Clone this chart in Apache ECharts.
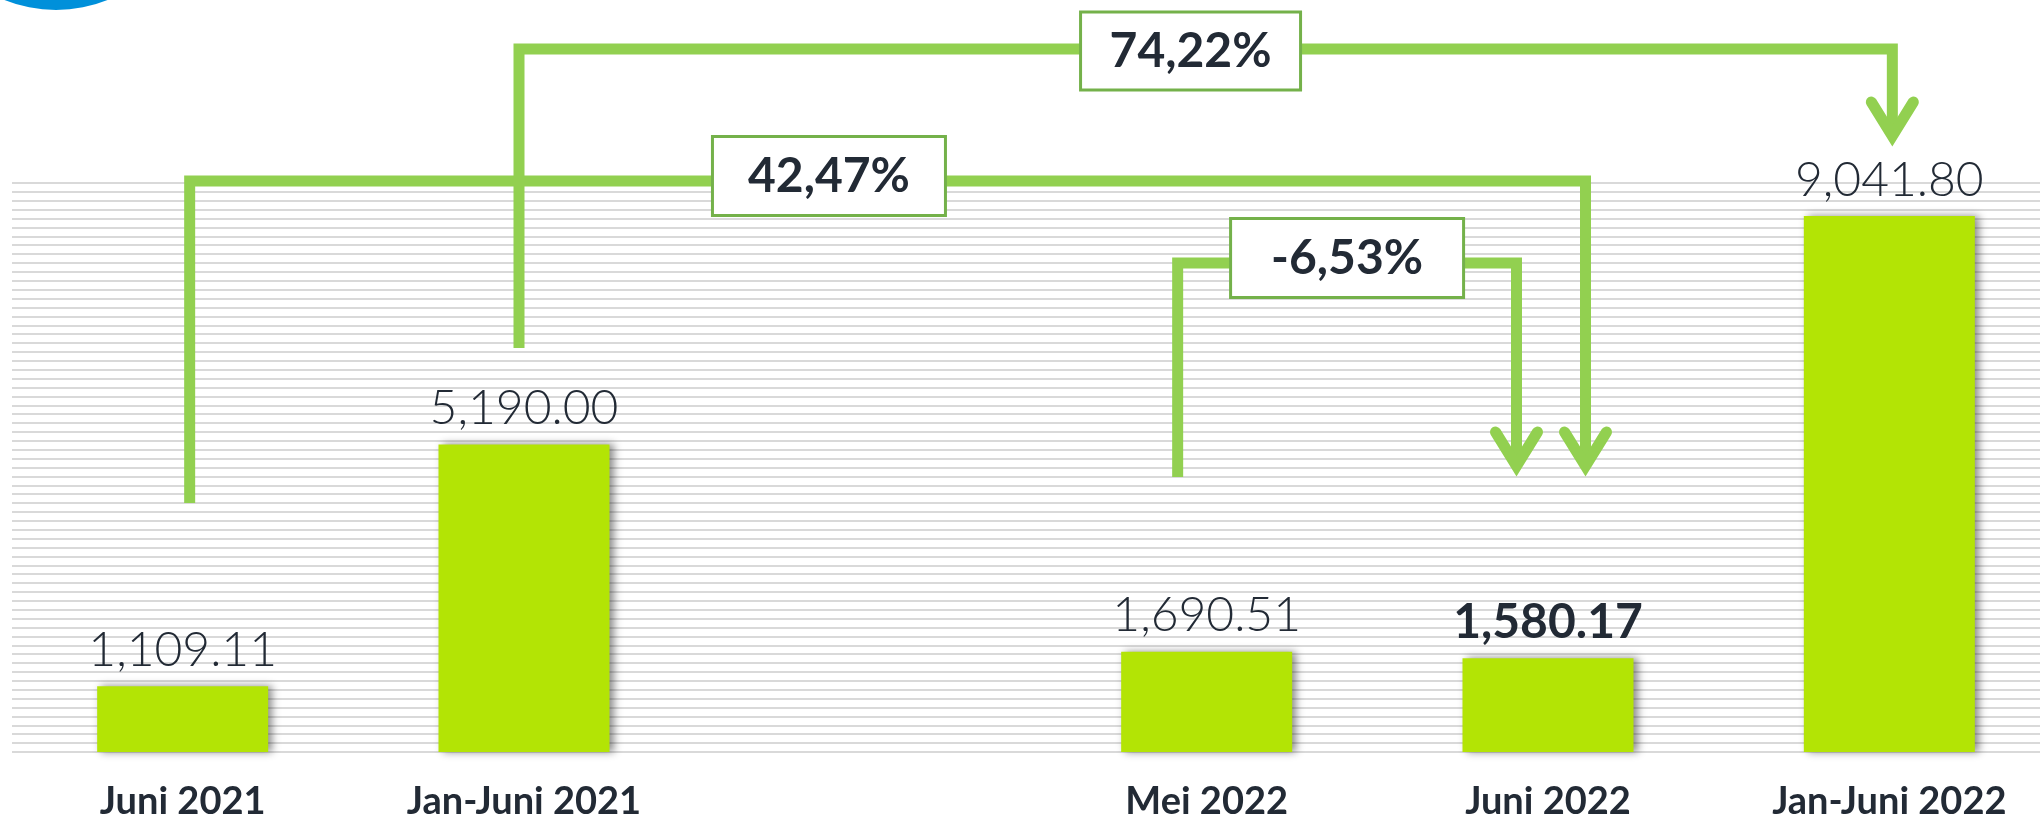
<!DOCTYPE html>
<html>
<head>
<meta charset="utf-8">
<script src="https://cdn.jsdelivr.net/npm/echarts@6/dist/echarts.min.js"></script>
<style>
  html, body { margin: 0; padding: 0; background: #ffffff; }
  #main { width: 2040px; height: 822px; }
</style>
</head>
<body>
<div id="main"></div>
<script>
// ---- data ----
const categories = ['Juni 2021', 'Jan-Juni 2021', '', 'Mei 2022', 'Juni 2022', 'Jan-Juni 2022'];
const values = [1109.11, 5190.00, null, 1690.51, 1580.17, 9041.80];
const valueLabels = ['1,109.11', '5,190.00', '', '1,690.51', '1,580.17', '9,041.80'];
const highlighted = 'Juni 2022';
const changeLabels = ['42,47%', '74,22%', '-6,53%'];
const changeFrom = ['Juni 2021', 'Jan-Juni 2021', 'Mei 2022'];
const changeTo = ['Juni 2022', 'Jan-Juni 2022', 'Juni 2022'];

// ---- styling / layout of the change brackets (pixel layout only) ----
const bracketLayout = [
  { fromDx: 7,   toDx: 37.5, levelY: 181, startY: 503, tipY: 477, boxFrac: 0.458, boxW: 233, boxH: 79, boxDy: -5 },
  { fromDx: -5,  toDx: 3,    levelY: 49,  startY: 348, tipY: 147, boxFrac: 0.489, boxW: 220, boxH: 78, boxDy: 2 },
  { fromDx: -29, toDx: -31.5,levelY: 263, startY: 477, tipY: 477, boxFrac: 0.5,   boxW: 233, boxH: 79, boxDy: -5 }
];

const TEXT = '#222A35';
const LINE = '#92D050';
const FONT = 'Lato, "Open Sans", sans-serif';

const chart = echarts.init(document.getElementById('main'), null, { renderer: 'canvas' });

chart.setOption({
  animation: false,
  grid: { left: 12, top: 183, width: 2048, height: 569, containLabel: false, outerBoundsMode: 'none' },
  xAxis: {
    type: 'category',
    data: categories,
    axisLine: { show: false },
    axisTick: { show: false },
    splitLine: { show: false },
    axisLabel: {
      interval: 0, color: TEXT, fontFamily: FONT, fontWeight: 'bold', fontSize: 38, margin: 31
    }
  },
  yAxis: {
    type: 'value', min: 0, max: 9600, interval: 150,
    axisLabel: { show: false }, axisLine: { show: false }, axisTick: { show: false },
    splitLine: { show: true, lineStyle: { color: '#D9D9D9', width: 2 } }
  },
  series: [{
    type: 'bar',
    barWidth: 171,
    data: values.map((v, i) => ({
      value: v == null ? '-' : v,
      label: categories[i] === highlighted ? { fontWeight: 'bold' } : {}
    })),
    itemStyle: {
      color: '#B3E405',
      shadowColor: 'rgba(0,0,0,0.45)', shadowBlur: 8, shadowOffsetX: 4, shadowOffsetY: 0
    },
    label: {
      show: true, position: 'top', distance: 12,
      color: TEXT, fontFamily: FONT, fontWeight: 300, fontSize: 48,
      formatter: p => valueLabels[p.dataIndex]
    }
  }]
});

// ---- annotation graphics derived from the category axis ----
const graphics = [];
graphics.push({ type: 'circle', shape: { cx: 56, cy: -128, r: 138 }, style: { fill: '#0090DA' }, z: 10 });

changeLabels.forEach((txt, k) => {
  const L = bracketLayout[k];
  const xL = chart.convertToPixel({ xAxisIndex: 0 }, changeFrom[k]) + L.fromDx;
  const xR = chart.convertToPixel({ xAxisIndex: 0 }, changeTo[k]) + L.toDx;
  const tipP = L.tipY - 11;
  graphics.push({
    type: 'polyline', z: 20,
    shape: { points: [[xL, L.startY], [xL, L.levelY], [xR, L.levelY], [xR, tipP]] },
    style: { stroke: LINE, lineWidth: 11, fill: null, lineJoin: 'miter', lineCap: 'butt' }
  });
  graphics.push({
    type: 'polyline', z: 20,
    shape: { points: [[xR - 21, L.tipY - 45], [xR, tipP], [xR + 21, L.tipY - 45]] },
    style: { stroke: LINE, lineWidth: 11, fill: null, lineJoin: 'miter', lineCap: 'round' }
  });
  const cx = xL + (xR - xL) * L.boxFrac;
  const cy = L.levelY + L.boxDy;
  graphics.push({
    type: 'rect', z: 21,
    shape: { x: cx - L.boxW / 2, y: cy - L.boxH / 2, width: L.boxW, height: L.boxH },
    style: { fill: '#FFFFFF', stroke: '#74B14A', lineWidth: 3 }
  });
  graphics.push({
    type: 'text', z: 22, x: cx, y: cy + 1,
    style: {
      text: txt, fill: TEXT, font: 'bold 48px ' + FONT,
      textAlign: 'center', textVerticalAlign: 'middle', align: 'center', verticalAlign: 'middle'
    }
  });
});

chart.setOption({ graphic: graphics });
</script>
</body>
</html>
